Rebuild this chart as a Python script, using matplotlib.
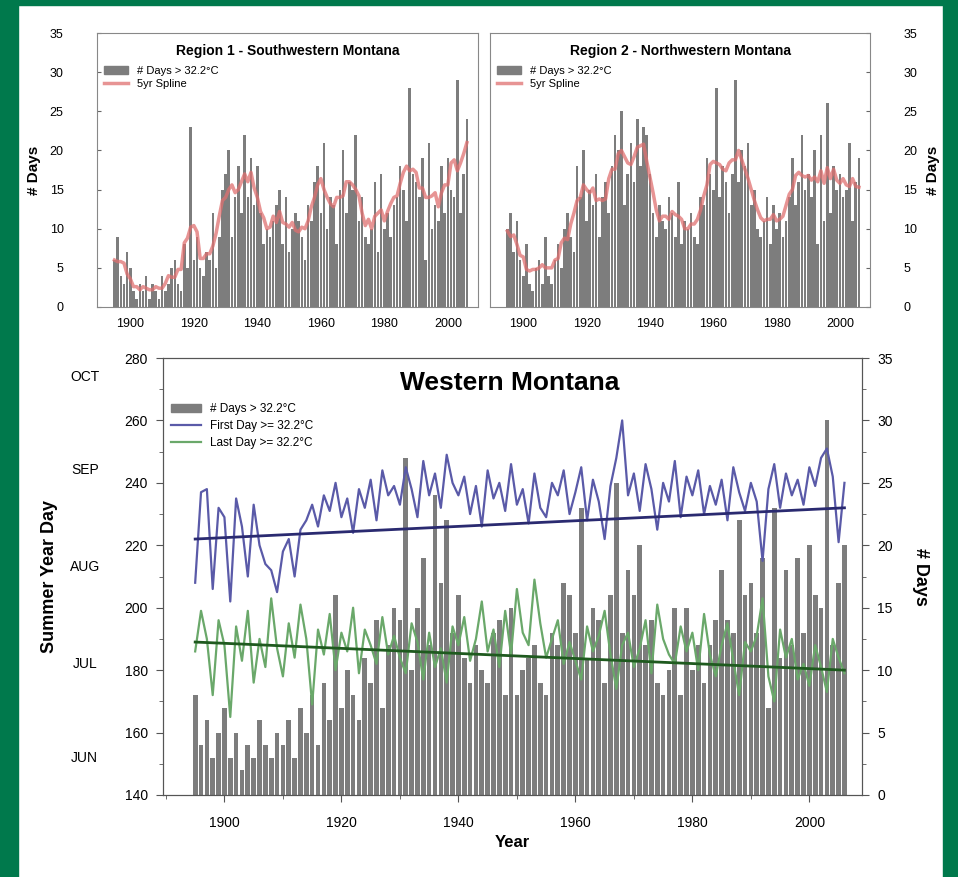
import numpy as np
import matplotlib
matplotlib.use("Agg")
from matplotlib import pyplot as plt
from matplotlib.patches import Rectangle, Patch
from matplotlib.lines import Line2D
from matplotlib.ticker import MultipleLocator

plt.rcParams['font.family'] = ['Liberation Sans', 'DejaVu Sans']

years = np.arange(1895, 2007)

# Region 1 - Southwestern Montana, # days > 32.2 C
r1_days = [6, 9, 4, 3, 7,
           5, 2, 1, 3, 2, 4, 1, 3, 2, 1,
           4, 2, 3, 5, 6, 3, 2, 8, 5, 23,
           6, 9, 5, 4, 7, 6, 12, 5, 9, 15,
           17, 20, 9, 14, 18, 12, 22, 14, 19, 13,
           18, 12, 8, 10, 9, 11, 13, 15, 8, 14,
           7, 10, 12, 11, 9, 6, 13, 11, 16, 18,
           12, 21, 10, 14, 13, 8, 15, 20, 12, 16,
           15, 22, 11, 14, 9, 8, 10, 16, 7, 17,
           10, 12, 9, 13, 14, 18, 15, 11, 28, 17,
           16, 14, 19, 6, 21, 10, 13, 11, 18, 12,
           19, 15, 14, 29, 12, 17, 24]
r1_spline = [6.0, 5.8, 5.8, 5.6, 4.2,
             3.6, 2.6, 2.6, 2.2, 2.6, 2.4, 2.2, 2.2, 2.6, 2.4,
             2.4, 3.0, 4.0, 3.8, 3.8, 4.8, 4.8, 8.2, 8.8, 10.2,
             10.4, 9.6, 6.2, 6.2, 6.8, 6.8, 7.8, 9.4, 11.6, 13.6,
             14.0, 15.0, 15.6, 14.6, 15.0, 16.0, 17.0, 16.0, 17.2, 15.2,
             14.0, 12.2, 11.4, 10.0, 10.2, 11.6, 10.8, 12.2, 10.8, 10.6,
             10.2, 10.8, 9.8, 9.6, 10.2, 10.0, 11.0, 12.8, 14.0, 15.6,
             16.4, 15.0, 14.0, 13.2, 12.8, 14.0, 14.0, 14.2, 16.0, 16.0,
             15.6, 15.0, 14.2, 12.0, 10.4, 11.2, 10.0, 11.6, 12.0, 12.4,
             11.0, 12.2, 13.2, 14.0, 14.2, 15.8, 17.2, 18.0, 17.4, 17.6,
             17.2, 15.2, 15.2, 14.0, 14.0, 14.2, 14.6, 12.8, 14.6, 15.6,
             15.6, 18.4, 18.8, 17.4, 18.4, 19.6, 21.0]

# Region 2 - Northwestern Montana
r2_days = [10, 12, 7, 11, 6,
           4, 8, 3, 2, 5, 6, 3, 9, 4, 3,
           6, 8, 5, 10, 12, 9, 7, 18, 14, 20,
           11, 15, 13, 17, 9, 14, 16, 12, 18, 22,
           20, 25, 13, 17, 21, 16, 24, 18, 23, 22,
           17, 12, 9, 13, 11, 10, 14, 12, 9, 16,
           8, 11, 10, 12, 9, 8, 14, 13, 19, 17,
           15, 28, 14, 18, 16, 12, 17, 29, 16, 20,
           18, 21, 13, 15, 10, 9, 11, 14, 8, 13,
           10, 12, 9, 11, 14, 19, 13, 16, 22, 15,
           17, 14, 20, 8, 22, 11, 26, 12, 18, 15,
           17, 14, 15, 21, 11, 16, 19]
r2_spline = [9.7, 9.0, 9.2, 8.0, 6.6,
             6.4, 4.8, 4.6, 4.8, 4.8, 5.0, 5.4, 5.0, 5.0, 5.0,
             6.0, 6.2, 8.2, 8.8, 8.6, 10.6, 12.0, 13.6, 14.0, 15.6,
             15.0, 14.6, 15.2, 13.6, 13.8, 13.6, 13.8, 16.4, 17.6, 17.6,
             19.6, 20.0, 19.2, 18.4, 18.2, 19.2, 20.4, 20.6, 20.8, 18.6,
             16.6, 14.6, 12.4, 11.0, 11.6, 11.6, 11.2, 12.2, 11.8, 11.6,
             11.2, 10.0, 10.0, 10.6, 10.6, 11.2, 12.4, 14.2, 15.6, 18.2,
             18.6, 18.4, 18.2, 17.6, 17.4, 18.4, 18.8, 18.8, 20.0, 18.8,
             17.6, 16.4, 15.0, 13.6, 12.4, 11.4, 11.0, 11.2, 11.2, 11.8,
             11.0, 11.2, 11.6, 13.0, 14.4, 15.0, 16.8, 17.2, 16.8, 16.6,
             16.8, 16.2, 16.6, 16.0, 17.4, 15.8, 17.8, 16.4, 17.6, 16.2,
             15.8, 16.4, 15.6, 15.4, 16.4, 15.4, 15.3]

# Western Montana
wm_days = [8, 4, 6, 3, 5,
           7, 3, 5, 2, 4, 3, 6, 4, 3, 5,
           4, 6, 3, 7, 5, 8, 4, 9, 6, 16,
           7, 10, 8, 6, 11, 9, 14, 7, 12, 15,
           14, 27, 10, 15, 19, 12, 24, 17, 22, 13,
           16, 11, 9, 12, 10, 9, 13, 14, 8, 15,
           8, 10, 11, 12, 9, 8, 13, 12, 17, 16,
           13, 23, 11, 15, 14, 9, 16, 25, 13, 18,
           16, 20, 12, 14, 9, 8, 10, 15, 8, 15,
           10, 12, 9, 12, 14, 18, 14, 13, 22, 16,
           17, 13, 19, 7, 23, 11, 18, 12, 19, 13,
           20, 16, 15, 30, 12, 17, 20]
wm_first = [208, 237, 238, 206, 232,
            229, 202, 235, 226, 210, 233, 220, 214, 212, 205,
            218, 222, 210, 225, 228, 233, 226, 236, 231, 240,
            229, 235, 224, 238, 232, 241, 228, 244, 236, 239,
            233, 245, 238, 229, 247, 236, 243, 232, 249, 240,
            236, 242, 230, 239, 226, 244, 235, 240, 231, 246,
            233, 238, 227, 243, 232, 229, 240, 236, 244, 230,
            237, 245, 228, 241, 234, 222, 239, 248, 260, 236,
            243, 231, 246, 238, 225, 240, 234, 247, 229, 242,
            236, 244, 230, 239, 233, 241, 228, 245, 237, 231,
            240, 234, 215, 238, 246, 232, 243, 236, 241, 233,
            245, 239, 248, 251, 242, 221, 240]
wm_last = [186, 199, 190, 172, 196,
           188, 165, 194, 183, 199, 176, 190, 181, 203, 187,
           178, 195, 184, 201, 190, 169, 193, 185, 198, 180,
           192, 186, 200, 179, 193, 188, 182, 197, 185, 191,
           184, 179, 195, 189, 177, 192, 181, 187, 176, 194,
           188, 197, 183, 190, 202, 186, 193, 181, 199, 185,
           206, 192, 188, 209, 195, 184, 190, 196, 182, 189,
           183, 177, 194, 186, 191, 199, 185, 174, 188, 192,
           181, 187, 196, 179, 201, 190, 185, 182, 194, 186,
           192, 180, 198, 185, 178, 188, 195, 183, 172, 189,
           186, 191, 203, 178, 170, 193, 184, 190, 177, 182,
           175, 188, 181, 173, 190, 184, 179]
trend_years = [1895, 2006]
first_trend = [222, 232]
last_trend = [189, 180]

month_names = ['JUN', 'JUL', 'AUG', 'SEP', 'OCT']
month_days = [152, 182, 213, 244, 274]

BAR = '#7d7d7d'
RED = '#e07070'
BLUE = '#5a5aa8'
GREEN = '#6aa86a'

fig = plt.figure(figsize=(9.58, 8.77), dpi=100)
fig.patch.set_facecolor('white')
# green page border
fig.patches.append(Rectangle((0, 0), 18/958, 1, transform=fig.transFigure, color='#00794c', zorder=0))
fig.patches.append(Rectangle((943/958, 0), 15/958, 1, transform=fig.transFigure, color='#00794c', zorder=0))
fig.patches.append(Rectangle((0, 1 - 5/877), 1, 5/877, transform=fig.transFigure, color='#00794c', zorder=0))


def region_panel(rect, days, spline, title, side):
    ax = fig.add_axes(rect)
    ax.bar(years, days, width=0.8, color=BAR, zorder=2)
    ax.plot(years, spline, color=RED, lw=2.5, alpha=0.75, zorder=3)
    ax.set_xlim(1889.5, 2009.5)
    ax.set_ylim(0, 35)
    ax.xaxis.set_major_locator(MultipleLocator(20))
    ax.yaxis.set_major_locator(MultipleLocator(5))
    ax.tick_params(direction='in', labelsize=9, color='#666666', length=3, pad=8)
    ax.tick_params(axis='y', pad=24)
    for s in ax.spines.values():
        s.set_color('#888888')
    if side == 'right':
        ax.yaxis.tick_right()
        ax.yaxis.set_label_position('right')
    ax.set_ylabel('# Days', fontsize=11, fontweight='bold', labelpad=6)
    ax.text(0.5, 0.935, title, transform=ax.transAxes, ha='center', va='center',
            fontsize=10, fontweight='bold')
    handles = [Patch(color=BAR), Line2D([], [], color=RED, lw=2.5, alpha=0.75)]
    ax.legend(handles, ['# Days > 32.2°C', '5yr Spline'], loc='upper left',
              bbox_to_anchor=(0.0, 0.905), frameon=False, fontsize=8,
              handlelength=2.2, labelspacing=0.3, borderaxespad=0.2)
    return ax


region_panel([97/958, 1 - 307/877, 381/958, 274/877], r1_days, r1_spline,
             'Region 1 - Southwestern Montana', 'left')
region_panel([490/958, 1 - 307/877, 380/958, 274/877], r2_days, r2_spline,
             'Region 2 - Northwestern Montana', 'right')

# bottom panel: bars on right axis, day of year on left axis
ax_bar = fig.add_axes([163/958, 1 - 795/877, 699/958, 437/877])
ax_bar.bar(years, wm_days, width=0.8, color=BAR, zorder=2)
ax_bar.set_ylim(0, 35)
ax_bar.set_xlim(1889.5, 2009)
ax_bar.xaxis.set_major_locator(MultipleLocator(20))
ax_bar.xaxis.set_minor_locator(MultipleLocator(10))
ax_bar.set_xlabel('Year', fontsize=12, fontweight='bold', labelpad=4)

ax_day = ax_bar.twinx()
# twinx moves the host ticks to the left, so set sides afterwards
ax_bar.yaxis.tick_right()
ax_bar.yaxis.set_label_position('right')
ax_bar.yaxis.set_major_locator(MultipleLocator(5))
ax_bar.yaxis.set_minor_locator(MultipleLocator(2.5))
ax_bar.set_ylabel('# Days', fontsize=13, fontweight='bold', labelpad=14, rotation=270, va='bottom')
ax_day.yaxis.tick_left()
ax_day.yaxis.set_label_position('left')

ax_day.plot(years, wm_first, color=BLUE, lw=1.6)
ax_day.plot(years, wm_last, color=GREEN, lw=1.6)
ax_day.plot(trend_years, first_trend, color='#2a2a70', lw=2)
ax_day.plot(trend_years, last_trend, color='#1f5a1f', lw=2)
ax_day.set_ylim(140, 280)
ax_day.yaxis.set_major_locator(MultipleLocator(20))
ax_day.yaxis.set_minor_locator(MultipleLocator(10))
ax_day.set_ylabel('Summer Year Day', fontsize=13, fontweight='bold', labelpad=48)
for m, d in zip(month_names, month_days):
    ax_day.text(-0.112, d, m, transform=ax_day.get_yaxis_transform(),
                ha='center', va='center', fontsize=10)

for a in (ax_bar, ax_day):
    a.tick_params(which='both', labelsize=10, color='#555555', pad=6)
    a.tick_params(which='major', length=5)
    a.tick_params(which='minor', length=3)
    for s in a.spines.values():
        s.set_color('#555555')
ax_bar.tick_params(axis='x', pad=10)

ax_day.text(0.496, 0.943, 'Western Montana', transform=ax_day.transAxes,
            ha='center', va='center', fontsize=19, fontweight='bold')
handles = [Patch(color=BAR), Line2D([], [], color=BLUE, lw=1.6),
           Line2D([], [], color=GREEN, lw=1.6)]
ax_day.legend(handles, ['# Days > 32.2°C', 'First Day >= 32.2°C', 'Last Day >= 32.2°C'],
              loc='upper left', bbox_to_anchor=(0.0, 0.915), frameon=False,
              fontsize=8.5, handlelength=2.5, labelspacing=0.4, borderaxespad=0.3)

fig.savefig('out.png', dpi=100)
